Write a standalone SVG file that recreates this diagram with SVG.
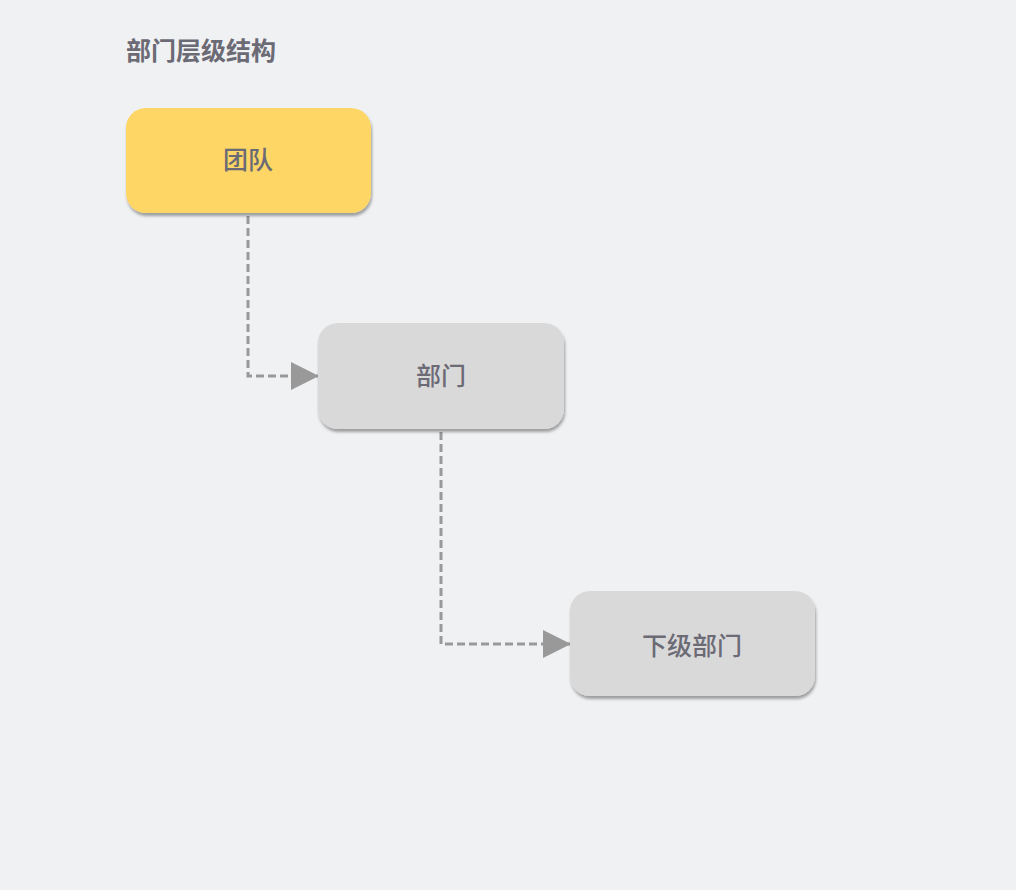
<svg xmlns="http://www.w3.org/2000/svg" width="1016" height="890" viewBox="0 0 1016 890">
<style>
.bg{fill:#f0f1f3}
.node rect{stroke:none}
.lbl{font-family:"Noto Sans CJK SC","Noto Sans",sans-serif;font-size:25px;font-weight:500;fill:#6b6a75;text-anchor:middle;dominant-baseline:central}
.title{font-family:"Noto Sans CJK SC","Noto Sans",sans-serif;font-size:25px;font-weight:700;fill:#6b6a75}
.conn{fill:none;stroke:#999999;stroke-width:3;stroke-dasharray:8,4}
</style>
<defs>
<filter id="sh" x="-10%" y="-10%" width="125%" height="130%">
<feDropShadow dx="1" dy="3" stdDeviation="1.8" flood-color="#000" flood-opacity="0.35"/>
</filter>
<marker id="arr" markerWidth="28" markerHeight="28" refX="27" refY="14" orient="auto" markerUnits="userSpaceOnUse">
<path d="M0,0 L28,14 L0,28 Z" fill="#999999"/>
</marker>
</defs>
<rect class="bg" x="0" y="0" width="1016" height="890"/>
<text class="title" x="126" y="60">部门层级结构</text>
<g id="connectors">
<path class="conn" d="M248,216 V376 H318" marker-end="url(#arr)"/>
<path class="conn" d="M441,432 V644 H570" marker-end="url(#arr)"/>
</g>
<g id="node-team" class="node">
<rect x="126" y="108" width="245" height="105" rx="20" fill="#fdd666" filter="url(#sh)"/>
<text class="lbl" x="248" y="158">团队</text>
</g>
<g id="node-dept" class="node">
<rect x="318" y="323" width="246" height="106" rx="20" fill="#d9d9d9" filter="url(#sh)"/>
<text class="lbl" x="441" y="374">部门</text>
</g>
<g id="node-subdept" class="node">
<rect x="570" y="591" width="245" height="105" rx="20" fill="#d9d9d9" filter="url(#sh)"/>
<text class="lbl" x="692" y="644">下级部门</text>
</g>
</svg>
